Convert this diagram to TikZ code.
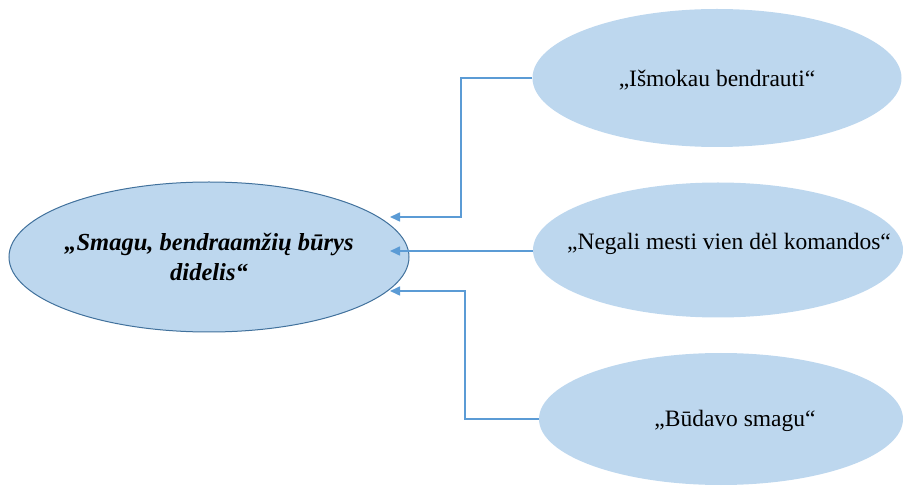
\documentclass[tikz,border=0pt]{standalone}
\usepackage{fontspec}
\setmainfont{Liberation Serif}
\usetikzlibrary{shapes.geometric,arrows.meta}
\definecolor{bubble}{HTML}{BDD7EE}
\definecolor{rim}{HTML}{41719C}
\definecolor{link}{HTML}{5B9BD5}
\begin{document}
\begin{tikzpicture}[x=1pt,y=-1pt,
  bubble/.style={ellipse,fill=bubble,inner sep=0pt},
  plain/.style={font=\fontsize{23.5}{28}\selectfont,inner sep=0pt},
  link/.style={draw=link,line width=1.6pt,-{Triangle[length=10pt,width=9pt]}}]
\useasboundingbox (0,0) rectangle (903,486);
% central idea
\node[bubble,draw=rim,line width=1pt,minimum width=400pt,minimum height=150pt] (main) at (209,257) {};
\node[align=center,inner sep=0pt,font=\fontsize{24.5}{30}\selectfont\bfseries\itshape] (mainlabel) at (main.center)
  {„Smagu, bendraamžių būrys\\didelis“};
% supporting statements
\node[bubble,minimum width=369pt,minimum height=138pt] (s1) at (717,78) {};
\node[bubble,minimum width=370pt,minimum height=135pt] (s2) at (718,250) {};
\node[bubble,minimum width=364pt,minimum height=132pt] (s3) at (721,419) {};
\node[plain] (l1) at (717,80) {„Išmokau bendrauti“};
\node[plain] (l2) at (729,244) {„Negali mesti vien dėl komandos“};
\node[plain] (l3) at (735,421) {„Būdavo smagu“};
% connector bends and tips
\coordinate (t1) at (390,217);
\coordinate (t2) at (390,251);
\coordinate (t3) at (390,291);
\draw[link] (s1.west) -| (461,217) -- (t1);
\draw[link] (s2.west |- t2) -- (t2);
\draw[link] (s3.west) -| (465,291) -- (t3);
\end{tikzpicture}
\end{document}
